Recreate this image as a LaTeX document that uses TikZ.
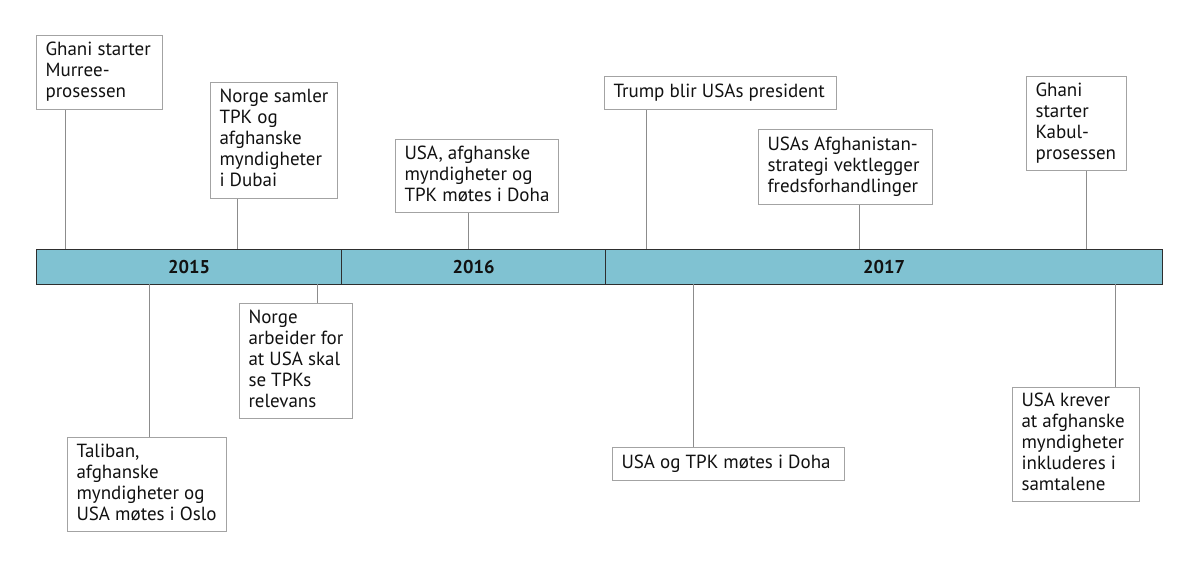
\documentclass[tikz,border=0pt]{standalone}
\usepackage{fontspec}
\setmainfont{PT Sans}
\definecolor{barfill}{HTML}{80C2D2}
\definecolor{bardark}{HTML}{2E2E2E}
\definecolor{boxgray}{HTML}{A3A3A3}
\definecolor{linegray}{HTML}{8C8C8C}
\definecolor{txt}{HTML}{111111}
\newcommand\evtext[2]{\makebox[#1][l]{\begin{tabular}{@{}l@{}}#2\end{tabular}}}
\begin{document}
\begin{tikzpicture}[x=1pt,y=-1pt,
  evbox/.style={draw=boxgray, line width=1pt, fill=white,
    inner xsep=9pt, inner ysep=0pt, text=txt,
    font=\fontsize{19}{21}\selectfont, anchor=north west},
  conn/.style={draw=linegray, line width=1pt},
  yearseg/.style={draw=bardark, fill=barfill, line width=1.3pt, text=txt,
    font=\fontsize{18.5}{21}\selectfont\bfseries, inner sep=0pt,
    anchor=north west, minimum height=35pt}]
\useasboundingbox (0,0) rectangle (1198,568);

% timeline bar
\node[yearseg, minimum width=305pt] (y15) at (36,249) {2015};
\node[yearseg, minimum width=264pt] (y16) at (341,249) {2016};
\node[yearseg, minimum width=557pt] (y17) at (605,249) {2017};

% boxes above
\node[evbox, minimum height=74pt] (a) at (36,35) {\evtext{108pt}{Ghani starter\\Murree-\\prosessen}};
\node[evbox, minimum height=116pt] (b) at (210,82) {\evtext{109pt}{Norge samler\\TPK og\\afghanske\\myndigheter\\i Dubai}};
\node[evbox, minimum height=73pt] (c) at (395,139) {\evtext{145pt}{USA, afghanske\\myndigheter og\\TPK møtes i Doha}};
\node[evbox, minimum height=33pt] (d) at (604,76) {\evtext{214pt}{Trump blir USAs president}};
\node[evbox, minimum height=75pt] (e) at (758,129) {\evtext{156pt}{USAs Afghanistan-\\strategi vektlegger\\fredsforhandlinger}};
\node[evbox, minimum height=94pt] (f) at (1026,76) {\evtext{82pt}{Ghani\\starter\\Kabul-\\prosessen}};

% boxes below
\node[evbox, minimum height=94pt] (g) at (67,437) {\evtext{141pt}{Taliban,\\afghanske\\myndigheter og\\USA møtes i Oslo}};
\node[evbox, minimum height=115pt] (h) at (239,303) {\evtext{95pt}{Norge\\arbeider for\\at USA skal\\se TPKs\\relevans}};
\node[evbox, minimum height=33pt] (i) at (612,447) {\evtext{214pt}{USA og TPK møtes i Doha}};
\node[evbox, minimum height=114pt] (j) at (1012,387) {\evtext{109pt}{USA krever\\at afghanske\\myndigheter\\inkluderes i\\samtalene}};

% anchor points on the bar
\coordinate (pa) at (65,249);
\coordinate (pb) at (237,249);
\coordinate (pc) at (468,249);
\coordinate (pd) at (646,249);
\coordinate (pe) at (859,249);
\coordinate (pf) at (1086,249);
\coordinate (pg) at (149,284);
\coordinate (ph) at (317,284);
\coordinate (pi) at (693,284);
\coordinate (pj) at (1115,284);

\draw[conn] (pa |- a.south) -- (pa);
\draw[conn] (pb |- b.south) -- (pb);
\draw[conn] (pc |- c.south) -- (pc);
\draw[conn] (pd |- d.south) -- (pd);
\draw[conn] (pe |- e.south) -- (pe);
\draw[conn] (pf |- f.south) -- (pf);
\draw[conn] (pg) -- (pg |- g.north);
\draw[conn] (ph) -- (ph |- h.north);
\draw[conn] (pi) -- (pi |- i.north);
\draw[conn] (pj) -- (pj |- j.north);
\end{tikzpicture}
\end{document}
